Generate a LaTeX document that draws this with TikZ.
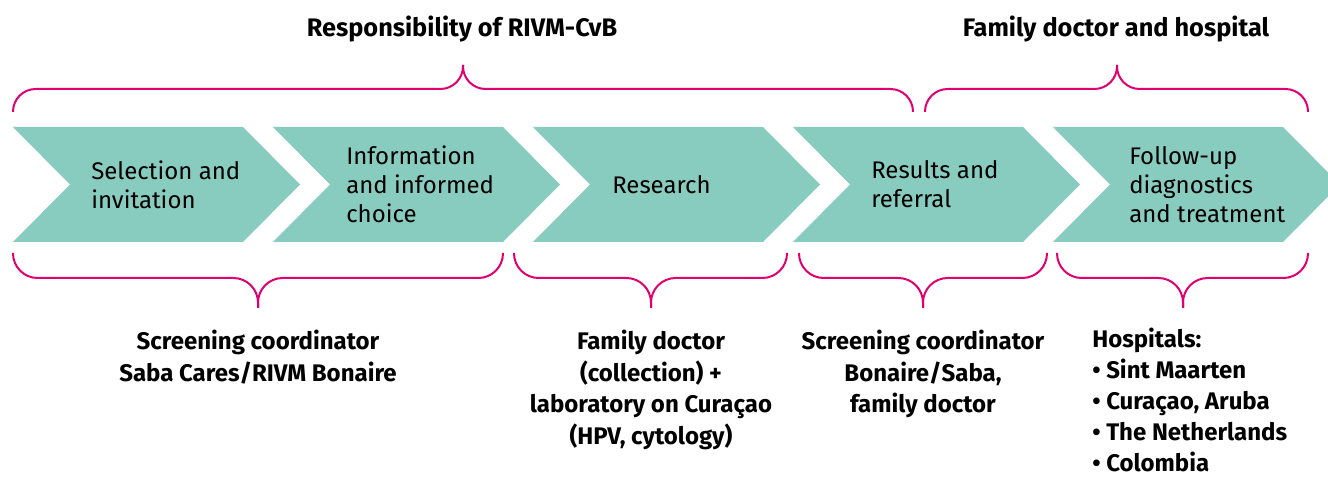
\documentclass[tikz,border=0pt]{standalone}
\usepackage{fontspec}
\setmainfont{Fira Sans}
\usepackage{tikz}
\usetikzlibrary{positioning}
\definecolor{stepteal}{RGB}{136,203,191}
\definecolor{bracepink}{RGB}{224,0,112}

\begin{document}
\begin{tikzpicture}
 [x=0.75pt,y=-0.75pt,
  chev/.style={fill=stepteal},
  brtop/.style={draw=bracepink,line width=1.5pt,rounded corners=17pt},
  brbot/.style={draw=bracepink,line width=1.5pt,rounded corners=18.5pt},
  lbl/.style={anchor=west,align=left,inner sep=0pt,font=\fontsize{18}{21.75}\selectfont},
  who/.style={align=center,inner sep=0pt,font=\bfseries\fontsize{18}{23.6}\selectfont},
  head/.style={anchor=base,inner sep=0pt,font=\bfseries\fontsize{19}{24}\selectfont}]
 \useasboundingbox (0,0) rectangle (1328,477);
 % chevrons
 \begin{scope}
  \clip (0,0) rectangle (1328,477);
  \foreach \l in {13,273,533,793,1053}
   \fill[chev] (\l,127) -- ++(230,0) -- ++(57,57.5) -- ++(-57,57.5)
    -- ++(-230,0) -- ++(57,-57.5) -- cycle;
 \end{scope}
 \node[lbl] (sel) at (91,184.5) {Selection and\\invitation};
 \node[lbl] (inf) at (346,184.5) {Information\\and informed\\choice};
 \node[lbl] (res) at (612,184.5) {Research};
 \node[lbl] (ref) at (871,184.5) {Results and\\referral};
 \node[lbl] (fol) at (1129,184.5) {Follow-up\\diagnostics\\and treatment};
 % top braces
 \coordinate (t1) at (463,65);
 \coordinate (t2) at (1117,65);
 \draw[brtop] (13,112) -- (13,89) -- (463,89) -- (t1);
 \draw[brtop] (913,112) -- (913,89) -- (463,89) -- (t1);
 \draw[brtop] (925,112) -- (925,89) -- (1117,89) -- (t2);
 \draw[brtop] (1308,112) -- (1308,89) -- (1117,89) -- (t2);
 \node[head] (rivm) at (462,37) {Responsibility of RIVM-CvB};
 \node[head] (hosp) at (1116,37) {Family doctor and hospital};
 % bottom braces
 \coordinate (b1) at (258,308);
 \coordinate (b2) at (651,308);
 \coordinate (b3) at (923,308);
 \coordinate (b4) at (1183,308);
 \draw[brbot] (13,253) -- (13,278) -- (258,278) -- (b1);
 \draw[brbot] (503,253) -- (503,278) -- (258,278) -- (b1);
 \draw[brbot] (514,253) -- (514,278) -- (651,278) -- (b2);
 \draw[brbot] (787,253) -- (787,278) -- (651,278) -- (b2);
 \draw[brbot] (799,253) -- (799,278) -- (923,278) -- (b3);
 \draw[brbot] (1047,253) -- (1047,278) -- (923,278) -- (b3);
 \draw[brbot] (1057,253) -- (1057,278) -- (1183,278) -- (b4);
 \draw[brbot] (1308,253) -- (1308,278) -- (1183,278) -- (b4);
 \node[who,below=16.5pt of b1] (scr) {Screening coordinator\\Saba Cares/RIVM Bonaire};
 \node[who,below=16.5pt of b2] (fam) {Family doctor\\(collection) +\\laboratory on Curaçao\\(HPV, cytology)};
 \node[who,below=16.5pt of b3] (sco) {Screening coordinator\\Bonaire/Saba,\\family doctor};
 \node[who,anchor=north west,align=left,font=\bfseries\fontsize{18}{23.2}\selectfont]
  (hos) at (1092,328) {Hospitals:\\• Sint Maarten\\• Curaçao, Aruba\\• The Netherlands\\• Colombia};
\end{tikzpicture}
\end{document}
